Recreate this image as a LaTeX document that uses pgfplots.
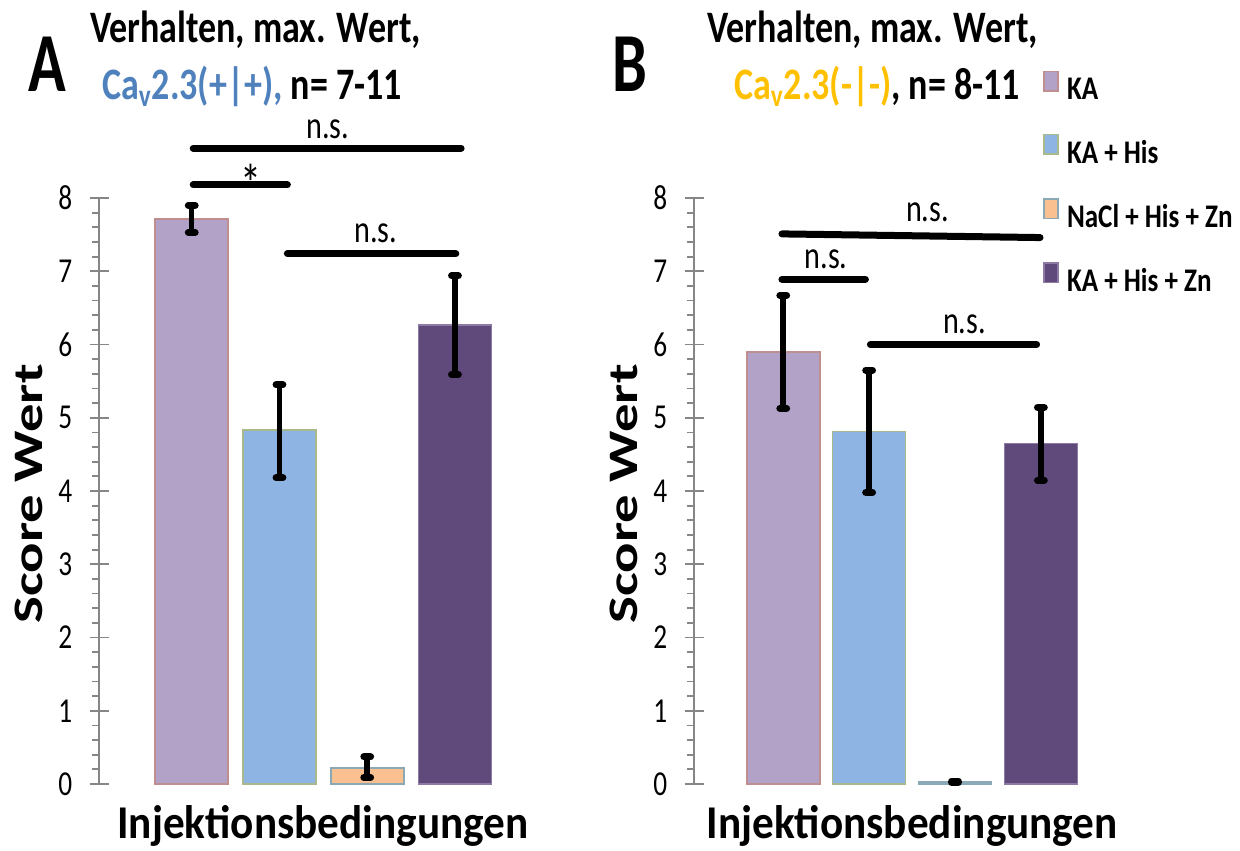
\documentclass[border=0pt]{standalone}
\usepackage{fontspec}
\usepackage{pgfplots}
\pgfplotsset{compat=1.18}
\setmainfont{Carlito}
\newfontfamily\ttlfont{Carlito}[FakeStretch=0.80]
\newfontfamily\bigfont{Carlito}[FakeStretch=0.74]
\newfontfamily\xlabfont{Carlito}[FakeStretch=0.92]
\newfontfamily\ylabfont{Carlito}[FakeStretch=1.35]
\newfontfamily\tickfont{Carlito}[FakeStretch=0.78]
\newfontfamily\legfont{Carlito}[FakeStretch=0.82]
\newfontfamily\sigfont{Carlito}[FakeStretch=0.78]

\definecolor{kaFill}{HTML}{B3A2C7}
\definecolor{kaEdge}{HTML}{BF8E8E}
\definecolor{hisFill}{HTML}{8EB4E3}
\definecolor{hisEdge}{HTML}{A9B98C}
\definecolor{naclFill}{HTML}{FAC090}
\definecolor{naclEdge}{HTML}{8BA8B7}
\definecolor{znFill}{HTML}{604A7B}
\definecolor{znEdge}{HTML}{8D7BA3}
\definecolor{axgray}{HTML}{868686}
\definecolor{capBlue}{HTML}{4F81BD}
\definecolor{capGold}{HTML}{FFC000}

\tikzset{
  sig/.style={black, line width=3.5pt, line cap=round},
  signote/.style={font={\sigfont\fontsize{19.3}{20}\selectfont}, inner sep=0pt, anchor=center},
}

\pgfplotsset{
  panel/.style={
    scale only axis, height=293pt, ymin=0, ymax=8, clip=false,
    axis lines=left, axis line style={-, axgray, line width=1pt},
    x axis line style={draw=none},
    xtick=\empty, ytick={0,1,...,8}, minor y tick num=4,
    tick align=center, major tick length=9.5pt, minor tick length=3.5pt,
    tick style={axgray, line width=0.9pt}, minor tick style={xshift=-1.75pt},
    /pgf/number format/assume math mode=true,
    yticklabel style={font={\tickfont\fontsize{17.5}{18}\selectfont}, inner sep=0pt, anchor=east, xshift=-8.5pt},
    ybar, bar width=36.5pt, bar shift=0pt,
    xlabel={Injektionsbedingungen}, ylabel={Score Wert},
    xlabel style={font={\xlabfont\bfseries\fontsize{23.5}{24}\selectfont}, at={([yshift=-10.5pt]axis description cs:0.548,0)}, anchor=north, inner sep=0pt},
    ylabel style={font={\ylabfont\bfseries\fontsize{21}{22}\selectfont}, at={([xshift=-35.25pt]axis description cs:0,0.495)}, anchor=center, inner sep=0pt},
    error bars/y dir=both, error bars/y explicit,
    error bars/error bar style={black, line width=2.75pt},
    error bars/error mark options={black, rotate=90, line width=3.5pt, line cap=round, mark size=1.7pt},
    every axis plot/.append style={line width=0.8pt},
  },
}

\begin{document}
\begin{tikzpicture}
\useasboundingbox (0pt,0pt) rectangle (620pt,-425pt);

% panel letters and titles
\node[anchor=base, inner sep=0pt, font={\bigfont\bfseries\fontsize{42}{44}\selectfont}] at (23.5pt,-46pt) {A};
\node[anchor=base, inner sep=0pt, font={\bigfont\bfseries\fontsize{42}{44}\selectfont}] at (315pt,-46pt) {B};
\node[anchor=base, inner sep=0pt, font={\ttlfont\bfseries\fontsize{22.5}{24}\selectfont}] at (127.75pt,-21.5pt) {Verhalten, max. Wert,};
\node[anchor=base, inner sep=0pt, font={\ttlfont\bfseries\fontsize{22.5}{24}\selectfont}] at (126pt,-50pt) {\textcolor{capBlue}{Ca\textsubscript{v}2.3(+|+),} n= 7-11};
\node[anchor=base, inner sep=0pt, font={\ttlfont\bfseries\fontsize{22.5}{24}\selectfont}] at (436.25pt,-21.5pt) {Verhalten, max. Wert,};
\node[anchor=base, inner sep=0pt, font={\ttlfont\bfseries\fontsize{22.5}{24}\selectfont}] at (438.5pt,-50pt) {\textcolor{capGold}{Ca\textsubscript{v}2.3(-|-)}, n= 8-11};

% panel A: Cav2.3(+|+)
\begin{axis}[panel, at={(49.5pt,-392pt)}, anchor=south west, width=204.3pt, xmin=-1.057, xmax=3.6]
\addplot[fill=kaFill, draw=kaEdge] coordinates {(0,7.71) += (0,0.19) -= (0,0.18)};
\addplot[fill=hisFill, draw=hisEdge] coordinates {(1,4.83) += (0,0.62) -= (0,0.65)};
\addplot[fill=naclFill, draw=naclEdge] coordinates {(2,0.22) += (0,0.15) -= (0,0.13)};
\addplot[fill=znFill, draw=znEdge] coordinates {(3,6.27) += (0,0.67) -= (0,0.68)};
\draw[sig] (axis cs:0.017,8.68) -- (axis cs:3.07,8.68);
\node[signote] at (axis cs:1.55,8.94) {n.s.};
\draw[sig] (axis cs:0.017,8.18) -- (axis cs:1.09,8.18);
\node[signote, anchor=north, font={\sigfont\fontsize{27}{28}\selectfont}] at (axis cs:0.67,8.47) {*};
\draw[sig] (axis cs:1.09,7.24) -- (axis cs:3.01,7.24);
\node[signote] at (axis cs:2.10,7.52) {n.s.};
\end{axis}

% panel B: Cav2.3(-|-)
\begin{axis}[panel, at={(347pt,-392pt)}, anchor=south west, width=199.2pt, xmin=-1.039, xmax=3.6,
  legend style={at={(axis description cs:0.876,1.218)}, anchor=north west, draw=none, fill=none,
    inner sep=0pt, row sep=15.6pt, column sep=4pt, nodes={inner sep=0pt},
    font={\legfont\bfseries\fontsize{16.5}{18}\selectfont}},
  legend cell align=left,
  legend image code/.code={\draw[#1, line width=0.8pt] (0pt,-0.3pt) rectangle (7pt,9.5pt);}]
\addplot[fill=kaFill, draw=kaEdge] coordinates {(0,5.90) += (0,0.77) -= (0,0.77)};
\addlegendentry{KA}
\addplot[fill=hisFill, draw=hisEdge] coordinates {(1,4.81) += (0,0.84) -= (0,0.83)};
\addlegendentry{KA + His}
\addplot[fill=naclFill, draw=naclEdge] coordinates {(2,0.03) += (0,0.01) -= (0,0.01)};
\addlegendentry{NaCl + His + Zn}
\addplot[fill=znFill, draw=znEdge] coordinates {(3,4.65) += (0,0.49) -= (0,0.50)};
\addlegendentry{KA + His + Zn}
\draw[sig] (axis cs:-0.015,7.51) -- (axis cs:2.99,7.46);
\node[signote] at (axis cs:1.68,7.80) {n.s.};
\draw[sig] (axis cs:-0.015,6.89) -- (axis cs:0.957,6.89);
\node[signote] at (axis cs:0.50,7.17) {n.s.};
\draw[sig] (axis cs:1.015,6.00) -- (axis cs:2.95,6.00);
\node[signote] at (axis cs:2.11,6.27) {n.s.};
\end{axis}
\end{tikzpicture}
\end{document}
